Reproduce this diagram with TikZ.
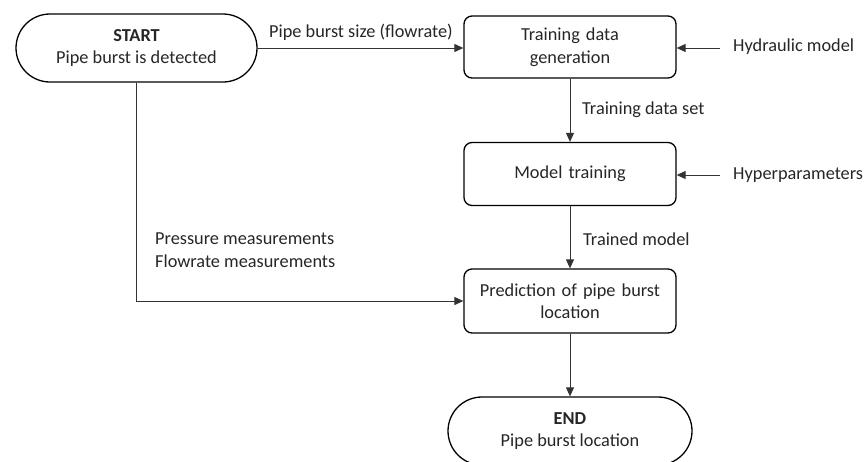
\documentclass[tikz,border=0pt]{standalone}
\usepackage{fontspec}
\setmainfont{Carlito}
\usetikzlibrary{arrows.meta}
\begin{document}
\begin{tikzpicture}[x=1pt,y=-1pt,
  every node/.style={font=\fontsize{18.3}{22.5}\selectfont, text=black!85},
  term/.style={draw=black, line width=1.3pt, rounded corners=34pt, minimum width=241pt, minimum height=68pt, align=center, inner sep=0pt},
  proc/.style={draw=black, line width=1.3pt, rounded corners=8pt, minimum width=212pt, minimum height=63pt, align=center, inner sep=0pt, text width=205pt},
  lbl/.style={anchor=west, inner sep=0pt},
  conn/.style={draw=black!80, line width=1pt, -{Triangle[length=9pt,width=8pt]}}
]
\useasboundingbox (0,0) rectangle (864,461);
\node[term] (start) at (136.5,48) {\textbf{START}\\Pipe burst is detected};
\node[proc, minimum height=62pt] (tdg) at (570,47) {Training data\\generation};
\node[proc] (mt) at (570,174) {Model training};
\node[proc, minimum height=64pt] (pred) at (570,301) {Prediction of pipe burst\\location};
\node[term, minimum width=244pt] (end) at (570,431) {\textbf{END}\\Pipe burst location};

\coordinate (hm) at (720,48);
\coordinate (hp) at (720,175);
\node[lbl] (hmt) at (733,47) {Hydraulic model};
\node[lbl] (hpt) at (733,175) {Hyperparameters};
\node[lbl] (tds) at (582,110) {Training data set};
\node[lbl] (tm) at (583,239) {Trained model};
\node[lbl, anchor=south west] (pbs) at (269,41) {Pipe burst size (flowrate)};
\node[lbl, align=left] (pm) at (155,250) {Pressure measurements\\Flowrate measurements};

\draw[conn] (start.east) -- (start.east -| tdg.west);
\draw[conn] (hm) -- (hm -| tdg.east);
\draw[conn] (hp) -- (hp -| mt.east);
\draw[conn] (tdg.south) -- (mt.north);
\draw[conn] (mt.south) -- (pred.north);
\draw[conn] (pred.south) -- (end.north);
\draw[conn] (start.south) |- (pred.west);
\end{tikzpicture}
\end{document}
